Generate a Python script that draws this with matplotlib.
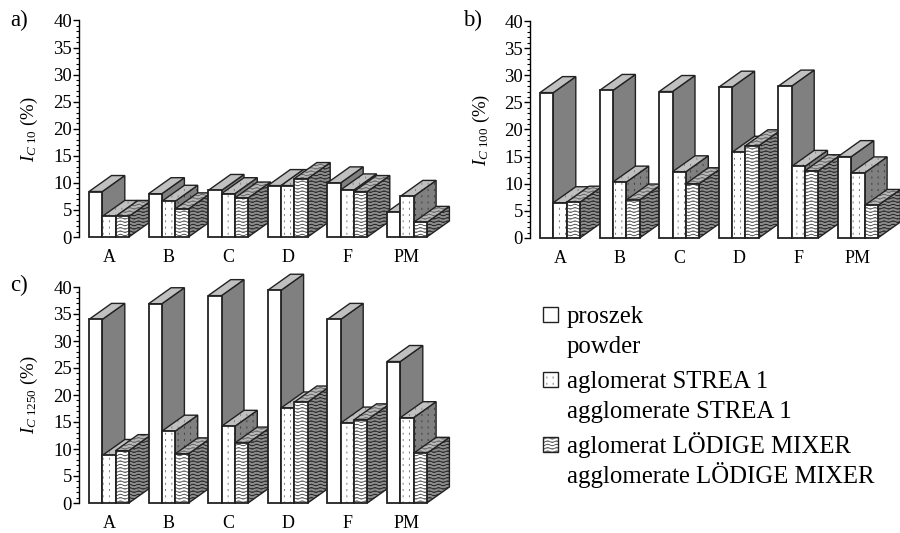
import warnings
import numpy as np
import matplotlib
matplotlib.use('Agg')
import matplotlib.pyplot as plt
import matplotlib.hatch as mhatch
from matplotlib.path import Path
from matplotlib.patches import Polygon, Rectangle

warnings.filterwarnings('ignore')
plt.rcParams['font.family'] = ['Liberation Serif', 'DejaVu Serif']
plt.rcParams['mathtext.fontset'] = 'custom'
plt.rcParams['mathtext.rm'] = 'Liberation Serif'
plt.rcParams['mathtext.it'] = 'Liberation Serif:italic'
plt.rcParams['hatch.linewidth'] = 0.6

categories = ['A', 'B', 'C', 'D', 'F', 'PM']
ic10_powder = [8.4, 8.0, 8.6, 9.5, 10.0, 4.6]
ic10_strea = [3.8, 6.6, 8.0, 9.5, 8.7, 7.5]
ic10_lodige = [3.8, 5.2, 7.2, 10.8, 8.4, 2.7]
ic100_powder = [26.8, 27.2, 27.0, 27.8, 28.0, 15.0]
ic100_strea = [6.5, 10.3, 12.2, 15.8, 13.2, 12.0]
ic100_lodige = [6.6, 7.0, 10.0, 17.0, 12.4, 6.0]
ic1250_powder = [34.0, 36.9, 38.4, 39.4, 34.0, 26.2]
ic1250_strea = [8.8, 13.3, 14.2, 17.6, 14.8, 15.8]
ic1250_lodige = [9.7, 9.1, 11.1, 18.7, 15.4, 9.2]

W, H = 900, 533
STEP = 59.6      # px per group
BAR = 13.3       # px bar width
DX, DY = 22.5, 16.0  # px depth
EDGE = '#222222'


# the two fill patterns of the original, not available as stock hatches
class WaveHatch(mhatch.HatchPatternBase):
    rows, waves, samples = 30, 11, 8

    def __init__(self, hatch, density):
        n = self.waves * self.samples + 1
        self.num_vertices = self.rows * n if '~' in hatch else 0

    def set_vertices_and_codes(self, vertices, codes):
        n = self.waves * self.samples + 1
        t = np.linspace(0, 1, n)
        for r in range(self.rows):
            part = slice(r * n, (r + 1) * n)
            vertices[part, 0] = t
            vertices[part, 1] = (r + 0.5) / self.rows + 0.008 * np.sin(2 * np.pi * self.waves * t)
            codes[part] = Path.LINETO
            codes[r * n] = Path.MOVETO


class DotHatch(mhatch.HatchPatternBase):
    grid = 16

    def __init__(self, hatch, density):
        self.num_vertices = 2 * self.grid ** 2 if ':' in hatch else 0

    def set_vertices_and_codes(self, vertices, codes):
        gx, gy = np.meshgrid(np.arange(self.grid), np.arange(self.grid))
        x = ((gx + 0.5) / self.grid).ravel()
        y = ((gy + 0.5) / self.grid).ravel()
        vertices[0::2, 0], vertices[0::2, 1] = x, y
        vertices[1::2, 0], vertices[1::2, 1] = x, y + 0.012
        codes[0::2] = Path.MOVETO
        codes[1::2] = Path.LINETO


mhatch._hatch_types.extend([WaveHatch, DotHatch])

# front, top, side: (face, hatch, hatch colour)
styles = [
    [('white', None, None), ('#c0c0c0', None, None), ('#808080', None, None)],
    [('white', ':', '#666666'), ('#c0c0c0', ':', '#777777'), ('#808080', ':', '#333333')],
    [('white', '~', '#555555'), ('#b8b8b8', '~', '#666666'), ('#8c8c8c', '~', '#222222')],
]


def face(ax, pts, style):
    fc, hatch, hc = style
    if hatch:
        ax.add_patch(Polygon(pts, facecolor=fc, edgecolor=hc, hatch=hatch, lw=0, clip_on=False))
        fc = 'none'
    ax.add_patch(Polygon(pts, facecolor=fc, edgecolor=EDGE, lw=1, clip_on=False))


def draw_panel(left, y0, y40, p, s, l, ylabel, label_x):
    ax = plt.gcf().add_axes([left / W, 1 - y0 / H, 6 * STEP / W, (y0 - y40) / H])
    ax.set_xlim(0, 6)
    ax.set_ylim(0, 40)
    ax.patch.set_visible(False)
    unit = (y0 - y40) / 40
    w, dx, dy = BAR / STEP, DX / STEP, DY / unit
    for i in range(len(categories)):
        x0 = i + 10 / STEP
        for j, vals in enumerate([p, s, l]):
            x = x0 + j * w
            v = vals[i]
            front, top, side = styles[j]
            face(ax, [(x + w, 0), (x + w + dx, dy), (x + w + dx, v + dy), (x + w, v)], side)
            face(ax, [(x, v), (x + dx, v + dy), (x + w + dx, v + dy), (x + w, v)], top)
            if front[1]:
                ax.bar(x, v, width=w, align='edge', color=front[0], edgecolor=front[2],
                       hatch=front[1], lw=0, clip_on=False)
                ax.bar(x, v, width=w, align='edge', color='none', edgecolor=EDGE, lw=1.3, clip_on=False)
            else:
                ax.bar(x, v, width=w, align='edge', color=front[0], edgecolor=EDGE, lw=1.3, clip_on=False)
    for sp in ['top', 'right', 'bottom']:
        ax.spines[sp].set_visible(False)
    ax.spines['left'].set_linewidth(1)
    ax.set_yticks(range(0, 41, 5))
    ax.set_yticks(range(0, 41), minor=True)
    ax.tick_params(axis='y', which='major', length=4, width=1, labelsize=13.5, pad=1)
    ax.tick_params(axis='y', which='minor', length=2, width=0.8)
    ax.set_xticks([i + (10 + 1.5 * BAR) / STEP for i in range(6)])
    ax.set_xticklabels(categories, fontsize=13)
    ax.tick_params(axis='x', length=0, pad=9)
    plt.gcf().text(label_x / W, 1 - (y0 + y40) / 2 / H, ylabel, rotation=90,
                   ha='center', va='center', fontsize=13.5)
    return ax


fig = plt.figure(figsize=(W / 100, H / 100), dpi=100)
draw_panel(79, 237, 20.5, ic10_powder, ic10_strea, ic10_lodige,
           r'$\mathit{I}_{\mathit{C}\ \mathrm{10}}$ (%)', 29)
draw_panel(530, 238, 21, ic100_powder, ic100_strea, ic100_lodige,
           r'$\mathit{I}_{\mathit{C}\ \mathrm{100}}$ (%)', 481)
draw_panel(79, 503, 287, ic1250_powder, ic1250_strea, ic1250_lodige,
           r'$\mathit{I}_{\mathit{C}\ \mathrm{1250}}$ (%)', 29)

for txt, x, y in [('a)', 10, 20), ('b)', 463, 20), ('c)', 10, 285)]:
    fig.text(x / W, 1 - y / H, txt, fontsize=16.5, va='center')

legend_rows = [
    ('proszek', 'powder', None, '#000000'),
    ('aglomerat STREA 1', 'agglomerate STREA 1', ':', '#666666'),
    ('aglomerat LÖDIGE MIXER', 'agglomerate LÖDIGE MIXER', '~', '#555555'),
]
row_base = [323, 388, 453]
for (pl, en, hatch, hc), y in zip(legend_rows, row_base):
    box = (543 / W, 1 - (y - 1) / H)
    if hatch:
        fig.add_artist(Rectangle(box, 15 / W, 15 / H, transform=fig.transFigure,
                                 facecolor='white', edgecolor=hc, hatch=hatch, lw=0))
    fig.add_artist(Rectangle(box, 15 / W, 15 / H, transform=fig.transFigure,
                             facecolor='none', edgecolor=EDGE, lw=1))
    fig.text(567 / W, 1 - y / H, pl, fontsize=17.8, va='baseline')
    fig.text(567 / W, 1 - (y + 30) / H, en, fontsize=17.8, va='baseline')

fig.savefig('out.png', dpi=100)
